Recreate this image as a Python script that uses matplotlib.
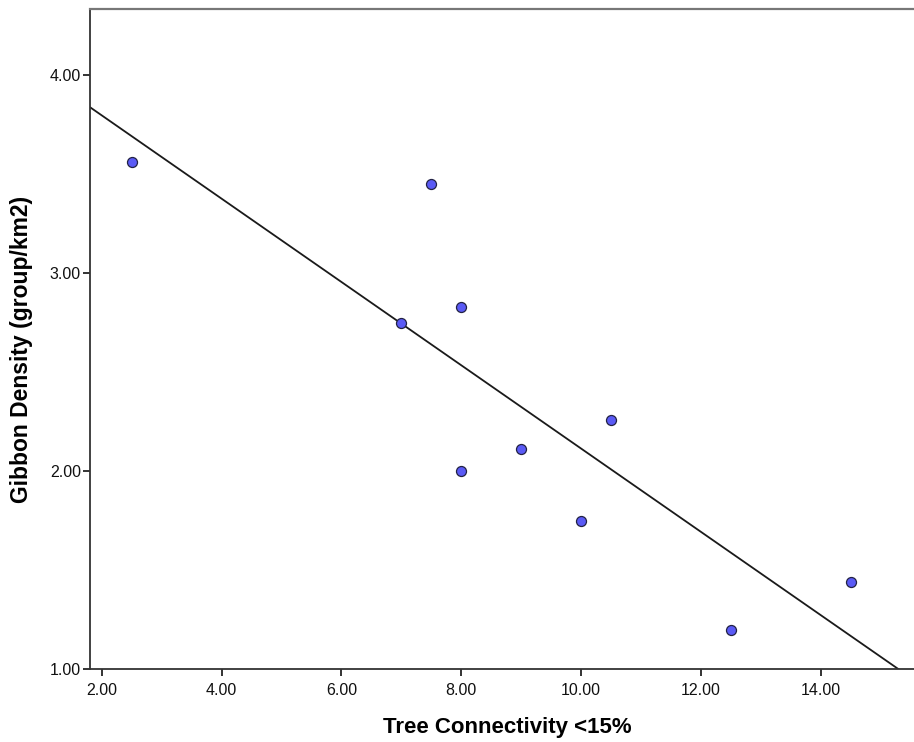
import numpy as np
import matplotlib.pyplot as plt

plt.rcParams['font.family'] = ['Liberation Sans', 'DejaVu Sans']

# tree connectivity (<15%) vs gibbon density per site
connectivity = [2.5, 7.5, 7.0, 8.0, 8.0, 9.0, 10.5, 10.0, 12.5, 14.5]
density = [3.56, 3.45, 2.75, 2.83, 2.00, 2.11, 2.26, 1.75, 1.20, 1.44]

xticks = [2, 4, 6, 8, 10, 12, 14]
yticks = [1, 2, 3, 4]

fig = plt.figure(figsize=(9.14, 7.42), dpi=100)
ax = fig.add_axes([0.099, 0.098, 0.901, 0.89])

xmin, xmax = 1.81, 15.56
ax.set_xlim(xmin, xmax)
ax.set_ylim(1.0, 4.333)

# linear fit line across the whole x range
slope, intercept = np.polyfit(connectivity, density, 1)
xs = np.array([xmin, xmax])
ax.plot(xs, slope * xs + intercept, color='#1a1a1a', lw=1.3, zorder=2)

ax.scatter(connectivity, density, s=52, color='#5a5af5', edgecolors='#222244',
           linewidths=0.9, zorder=3)

ax.set_xticks(xticks)
ax.set_xticklabels(['%.2f' % v for v in xticks])
ax.set_yticks(yticks)
ax.set_yticklabels(['%.2f' % v for v in yticks])
ax.tick_params(direction='out', length=5, width=1.2, labelsize=11.5,
               colors='#111111', pad=2)
ax.tick_params(axis='x', pad=5)

for side in ['left', 'bottom']:
    ax.spines[side].set_color('#333333')
    ax.spines[side].set_linewidth(1.3)
ax.spines['top'].set_color('#777777')
ax.spines['top'].set_linewidth(1.6)
ax.spines['right'].set_visible(False)

ax.set_xlabel('Tree Connectivity <15%', fontsize=16, fontweight='bold')
ax.set_ylabel('Gibbon Density (group/km2)', fontsize=16.5, fontweight='bold')
ax.xaxis.set_label_coords(0.506, -0.072)
ax.yaxis.set_label_coords(-0.070, 0.484)

fig.savefig('out.png', dpi=100)
